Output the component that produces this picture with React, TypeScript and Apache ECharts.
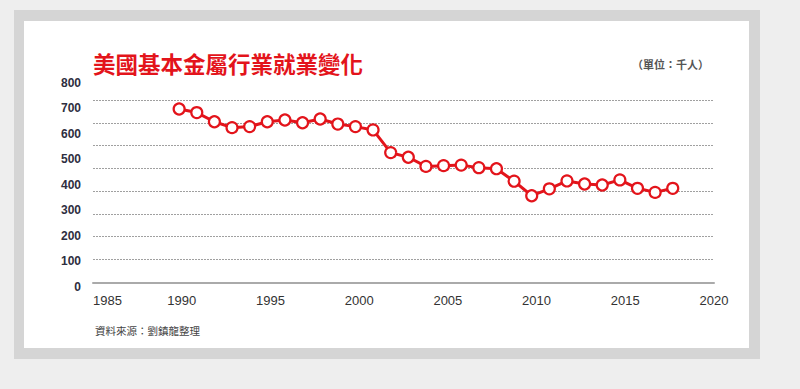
import React, { useEffect, useRef } from "react";
import * as echarts from "echarts";

const years = [1990, 1991, 1992, 1993, 1994, 1995, 1996, 1997, 1998, 1999, 2000, 2001, 2002, 2003, 2004, 2005, 2006, 2007, 2008, 2009, 2010, 2011, 2012, 2013, 2014, 2015, 2016, 2017, 2018];
const employment = [696, 682, 646, 623, 627, 646, 653, 642, 657, 637, 627, 614, 525, 507, 471, 474, 476, 466, 462, 413, 356, 383, 414, 402, 398, 418, 385, 369, 385];
const titleText = "美國基本金屬行業就業變化";
const unitText = "（單位：千人）";
const sourceText = "資料來源：劉鎮龍整理";

export default function App() {
  const ref = useRef<HTMLDivElement>(null);
  useEffect(() => {
    if (!ref.current) return;
    const chart = echarts.init(ref.current, null, { renderer: "svg" });
    const red = "#e3141b";
    chart.setOption({
      animation: false,
      backgroundColor: "#eeeeee",
      graphic: [
        { type: "rect", z: -10, shape: { x: 14, y: 10, width: 746, height: 349 }, style: { fill: "#d5d5d5" } },
        { type: "rect", z: -9, shape: { x: 24, y: 21, width: 725, height: 327 }, style: { fill: "#ffffff" } },
      ],
      title: [
        {
          text: titleText,
          left: 88,
          top: 47,
          textStyle: { color: red, fontSize: 22.5, fontWeight: "bold", fontFamily: "'Noto Sans CJK TC', serif" },
        },
        {
          text: unitText,
          right: 86,
          top: 53,
          textStyle: { color: "#555", fontSize: 11, fontWeight: "bold", fontFamily: "'Noto Sans CJK TC', sans-serif" },
        },
        {
          text: sourceText,
          left: 90,
          top: 320,
          textStyle: { color: "#444", fontSize: 10.5, fontWeight: "normal", fontFamily: "'Noto Sans CJK TC', sans-serif" },
        },
      ],
      grid: [
        { left: 91, right: 92, top: 82.5, bottom: 102.5 },
        { left: 93, right: 86, top: 100, bottom: 106.7 },
      ],
      xAxis: [
        { type: "value", gridIndex: 0, min: 1985, max: 2020, show: false },
        {
          type: "value",
          gridIndex: 1,
          min: 1985,
          max: 2020,
          interval: 5,
          axisLine: { show: true, lineStyle: { color: "#aaaaaa", width: 2 } },
          axisTick: { show: false },
          splitLine: { show: false },
          axisLabel: {
            color: "#333",
            fontSize: 13,
            fontFamily: "Arial, 'Liberation Sans', sans-serif",
            margin: 12,
            alignMinLabel: "left",
            formatter: (v: number) => String(v),
          },
        },
      ],
      yAxis: [
        {
          type: "value",
          gridIndex: 0,
          min: 0,
          max: 800,
          interval: 100,
          axisLine: { show: false },
          axisTick: { show: false },
          splitLine: { show: false },
          axisLabel: {
            color: "#2e2e40",
            fontSize: 12,
            fontWeight: "bold",
            fontFamily: "Arial, 'Liberation Sans', sans-serif",
            margin: 10,
          },
        },
        {
          type: "value",
          gridIndex: 1,
          min: 0,
          max: 800,
          interval: 100,
          axisLine: { show: false },
          axisTick: { show: false },
          axisLabel: { show: false },
          splitLine: { show: true, lineStyle: { color: "#a0a0a0", width: 1, type: [2, 1] } },
        },
      ],
      series: [
        {
          type: "line",
          xAxisIndex: 0,
          yAxisIndex: 0,
          data: years.map((y, i) => [y, employment[i]]),
          symbol: "circle",
          symbolSize: 11,
          lineStyle: { color: red, width: 3 },
          itemStyle: { color: "#ffffff", borderColor: red, borderWidth: 2.2 },
          z: 5,
        },
      ],
    });
    return () => chart.dispose();
  }, []);
  return <div ref={ref} style={{ position: "fixed", left: 0, top: 0, width: 800, height: 389 }} />;
}
